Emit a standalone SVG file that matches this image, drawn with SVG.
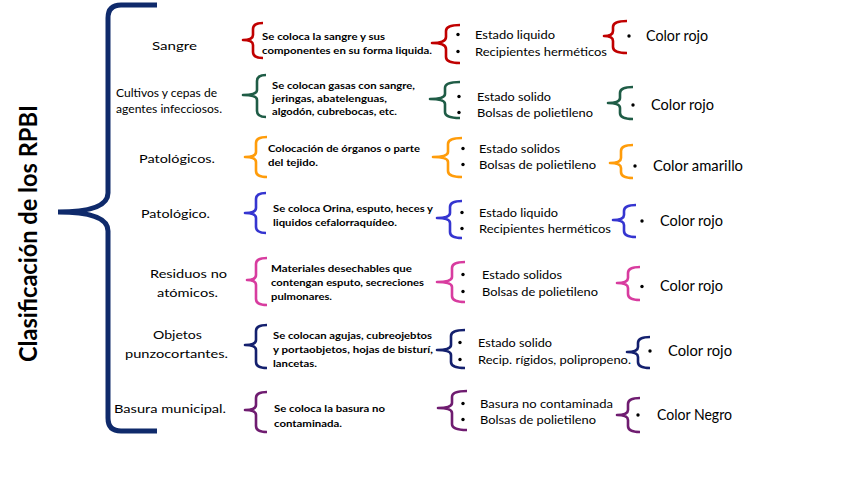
<svg xmlns="http://www.w3.org/2000/svg" width="848" height="477" viewBox="0 0 848 477">
<style>
text{font-family:Lato,"Liberation Sans",sans-serif;fill:#000}
.t{font-size:24px;font-weight:bold}
.lb{font-size:12px}
.ds{font-size:10.3px;font-weight:bold}
.c2{font-size:11.8px}
.c3{font-size:15px}
.br{fill:none;stroke-width:2.6;stroke-linecap:butt;stroke-linejoin:round}
.big{fill:none;stroke:#0F2A6B;stroke-width:5}
.r{stroke:#C00000}.g{stroke:#1F5C46}.o{stroke:#FF9C0A}.b{stroke:#3535D0}.m{stroke:#D83C9F}.n{stroke:#14206E}.p{stroke:#6F1C70}
circle{fill:#000}
</style>
<rect width="848" height="477" fill="#fff"/>
<g id="title"><text class="t" transform="translate(37,362) rotate(-90)" textLength="257" lengthAdjust="spacingAndGlyphs">Clasificación de los RPBI</text></g>
<g id="connectors">
<path class="big" d="M157,5 L121,5 Q108,5 108,18 L108,193 Q108,212 58,212 Q108,212 108,231 L108,418 Q108,431 121,431 L157,431"/>
<path class="br r" d="M263,23 Q253,23 253,29 L253,35 Q253,40 243,40 Q253,40 253,45 L253,52 Q253,58 263,58"/>
<path class="br r" d="M460,25 Q446,25 446,31 L446,37 Q446,43 432,43 Q446,43 446,49 L446,57 Q446,63 460,63"/>
<path class="br r" d="M627,21 Q613,21 613,27 L613,31 Q613,36 604,36 Q613,36 613,41 L613,47 Q613,53 627,53"/>
<path class="br g" d="M266,75 Q257,75 257,81 L257,90 Q257,95 243,95 Q257,95 257,100 L257,111 Q257,117 266,117"/>
<path class="br g" d="M460,82 Q445,82 445,88 L445,94 Q445,99 430,99 Q445,99 445,104 L445,112 Q445,118 460,118"/>
<path class="br g" d="M633,87 Q620,87 620,93 L620,98 Q620,103 608,103 Q620,103 620,108 L620,113 Q620,119 633,119"/>
<path class="br o" d="M267,137 Q256,137 256,143 L256,152 Q256,157 245,157 Q256,157 256,162 L256,171 Q256,177 267,177"/>
<path class="br o" d="M462,138 Q448,138 448,144 L448,152 Q448,157 433,157 Q448,157 448,162 L448,171 Q448,177 462,177"/>
<path class="br o" d="M633,145 Q621,145 621,151 L621,158 Q621,163 610,163 Q621,163 621,168 L621,172 Q621,178 633,178"/>
<path class="br b" d="M266,193 Q256,193 256,199 L256,208 Q256,213 245,213 Q256,213 256,218 L256,227 Q256,233 266,233"/>
<path class="br b" d="M462,201 Q450,201 450,207 L450,213 Q450,218 437,218 Q450,218 450,223 L450,232 Q450,238 462,238"/>
<path class="br b" d="M636,205 Q624,205 624,211 L624,215 Q624,220 613,220 Q624,220 624,225 L624,231 Q624,237 636,237"/>
<path class="br m" d="M267,258 Q256,258 256,264 L256,275 Q256,280 247,280 Q256,280 256,285 L256,299 Q256,305 267,305"/>
<path class="br m" d="M465,262 Q452,262 452,268 L452,277 Q452,282 437,282 Q452,282 452,287 L452,296 Q452,302 465,302"/>
<path class="br m" d="M640,267 Q628,267 628,273 L628,278 Q628,283 617,283 Q628,283 628,288 L628,294 Q628,300 640,300"/>
<path class="br n" d="M267,325 Q256,325 256,331 L256,340 Q256,345 245,345 Q256,345 256,350 L256,362 Q256,368 267,368"/>
<path class="br n" d="M465,330 Q451,330 451,336 L451,345 Q451,350 437,350 Q451,350 451,355 L451,362 Q451,368 465,368"/>
<path class="br n" d="M650,337 Q638,337 638,343 L638,347 Q638,352 627,352 Q638,352 638,357 L638,362 Q638,368 650,368"/>
<path class="br p" d="M267,392 Q256,392 256,398 L256,405 Q256,410 245,410 Q256,410 256,415 L256,426 Q256,432 267,432"/>
<path class="br p" d="M467,391 Q452,391 452,397 L452,403 Q452,408 438,408 Q452,408 452,413 L452,424 Q452,430 467,430"/>
<path class="br p" d="M640,398 Q628,398 628,404 L628,410 Q628,415 617,415 Q628,415 628,420 L628,426 Q628,432 640,432"/>
</g>
<g id="row-sangre">
<text class="lb" x="152" y="50" textLength="45" lengthAdjust="spacingAndGlyphs">Sangre</text>
<text class="ds" x="262" y="40" textLength="123" lengthAdjust="spacingAndGlyphs">Se coloca la sangre y sus</text>
<text class="ds" x="262" y="54" textLength="170" lengthAdjust="spacingAndGlyphs">componentes en su forma liquida.</text>
<circle cx="458" cy="34.5" r="1.7"/><circle cx="458" cy="51.5" r="1.7"/>
<text class="c2" x="475" y="39" textLength="80" lengthAdjust="spacingAndGlyphs">Estado liquido</text>
<text class="c2" x="475" y="56" textLength="132" lengthAdjust="spacingAndGlyphs">Recipientes herméticos</text>
<circle cx="629" cy="36" r="1.7"/>
<text class="c3" x="646" y="41" textLength="62" lengthAdjust="spacingAndGlyphs">Color rojo</text>
</g>
<g id="row-cultivos">
<text class="lb" x="116" y="97" textLength="101" lengthAdjust="spacingAndGlyphs">Cultivos y cepas de</text>
<text class="lb" x="116" y="113" textLength="106" lengthAdjust="spacingAndGlyphs">agentes infecciosos.</text>
<text class="ds" x="272" y="89" textLength="143" lengthAdjust="spacingAndGlyphs">Se colocan gasas con sangre,</text>
<text class="ds" x="272" y="102" textLength="115" lengthAdjust="spacingAndGlyphs">jeringas, abatelenguas,</text>
<text class="ds" x="272" y="115" textLength="125" lengthAdjust="spacingAndGlyphs">algodón, cubrebocas, etc.</text>
<circle cx="459" cy="96.5" r="1.7"/><circle cx="459" cy="112.5" r="1.7"/>
<text class="c2" x="477" y="101" textLength="74" lengthAdjust="spacingAndGlyphs">Estado solido</text>
<text class="c2" x="477" y="117" textLength="116" lengthAdjust="spacingAndGlyphs">Bolsas de polietileno</text>
<circle cx="633" cy="105" r="1.7"/>
<text class="c3" x="651" y="110" textLength="63" lengthAdjust="spacingAndGlyphs">Color rojo</text>
</g>
<g id="row-patologicos">
<text class="lb" x="139" y="163" textLength="76" lengthAdjust="spacingAndGlyphs">Patológicos.</text>
<text class="ds" x="268" y="152" textLength="152" lengthAdjust="spacingAndGlyphs">Colocación de órganos o parte</text>
<text class="ds" x="268" y="166" textLength="50" lengthAdjust="spacingAndGlyphs">del tejido.</text>
<circle cx="463" cy="148.5" r="1.7"/><circle cx="463" cy="164.5" r="1.7"/>
<text class="c2" x="479" y="153" textLength="81" lengthAdjust="spacingAndGlyphs">Estado solidos</text>
<text class="c2" x="479" y="169" textLength="117" lengthAdjust="spacingAndGlyphs">Bolsas de polietileno</text>
<circle cx="635" cy="166" r="1.7"/>
<text class="c3" x="653" y="171" textLength="90" lengthAdjust="spacingAndGlyphs">Color amarillo</text>
</g>
<g id="row-patologico">
<text class="lb" x="141" y="218" textLength="69" lengthAdjust="spacingAndGlyphs">Patológico.</text>
<text class="ds" x="273" y="212" textLength="160" lengthAdjust="spacingAndGlyphs">Se coloca Orina, esputo, heces y</text>
<text class="ds" x="273" y="226" textLength="124" lengthAdjust="spacingAndGlyphs">liquidos cefalorraquídeo.</text>
<circle cx="462" cy="212.5" r="1.7"/><circle cx="462" cy="228.5" r="1.7"/>
<text class="c2" x="479" y="217" textLength="79" lengthAdjust="spacingAndGlyphs">Estado liquido</text>
<text class="c2" x="479" y="233" textLength="132" lengthAdjust="spacingAndGlyphs">Recipientes herméticos</text>
<circle cx="642" cy="221" r="1.7"/>
<text class="c3" x="660" y="226" textLength="63" lengthAdjust="spacingAndGlyphs">Color rojo</text>
</g>
<g id="row-residuos">
<text class="lb" x="150" y="278" textLength="77" lengthAdjust="spacingAndGlyphs">Residuos no</text>
<text class="lb" x="157" y="297" textLength="61" lengthAdjust="spacingAndGlyphs">atómicos.</text>
<text class="ds" x="271" y="272" textLength="141" lengthAdjust="spacingAndGlyphs">Materiales desechables que</text>
<text class="ds" x="271" y="286" textLength="153" lengthAdjust="spacingAndGlyphs">contengan esputo, secreciones</text>
<text class="ds" x="271" y="300" textLength="61" lengthAdjust="spacingAndGlyphs">pulmonares.</text>
<circle cx="463" cy="274.5" r="1.7"/><circle cx="463" cy="291.5" r="1.7"/>
<text class="c2" x="482" y="279" textLength="80" lengthAdjust="spacingAndGlyphs">Estado solidos</text>
<text class="c2" x="482" y="296" textLength="116" lengthAdjust="spacingAndGlyphs">Bolsas de polietileno</text>
<circle cx="642" cy="286.5" r="1.7"/>
<text class="c3" x="660" y="291" textLength="63" lengthAdjust="spacingAndGlyphs">Color rojo</text>
</g>
<g id="row-objetos">
<text class="lb" x="153" y="339" textLength="49" lengthAdjust="spacingAndGlyphs">Objetos</text>
<text class="lb" x="125" y="358" textLength="103" lengthAdjust="spacingAndGlyphs">punzocortantes.</text>
<text class="ds" x="273" y="339" textLength="159" lengthAdjust="spacingAndGlyphs">Se colocan agujas, cubreojebtos</text>
<text class="ds" x="273" y="353" textLength="160" lengthAdjust="spacingAndGlyphs">y portaobjetos, hojas de bisturí,</text>
<text class="ds" x="273" y="367" textLength="44" lengthAdjust="spacingAndGlyphs">lancetas.</text>
<circle cx="460" cy="342.5" r="1.7"/><circle cx="460" cy="359.5" r="1.7"/>
<text class="c2" x="478" y="347" textLength="74" lengthAdjust="spacingAndGlyphs">Estado solido</text>
<text class="c2" x="478" y="364" textLength="153" lengthAdjust="spacingAndGlyphs">Recip. rígidos, polipropeno.</text>
<circle cx="650" cy="351" r="1.7"/>
<text class="c3" x="668" y="356" textLength="64" lengthAdjust="spacingAndGlyphs">Color rojo</text>
</g>
<g id="row-basura">
<text class="lb" x="114" y="413" textLength="112" lengthAdjust="spacingAndGlyphs">Basura municipal.</text>
<text class="ds" x="274" y="412" textLength="111" lengthAdjust="spacingAndGlyphs">Se coloca la basura no</text>
<text class="ds" x="274" y="427" textLength="68" lengthAdjust="spacingAndGlyphs">contaminada.</text>
<circle cx="463" cy="403.5" r="1.7"/><circle cx="463" cy="419.5" r="1.7"/>
<text class="c2" x="480" y="408" textLength="133" lengthAdjust="spacingAndGlyphs">Basura no contaminada</text>
<text class="c2" x="480" y="424" textLength="116" lengthAdjust="spacingAndGlyphs">Bolsas de polietileno</text>
<circle cx="638" cy="415" r="1.7"/>
<text class="c3" x="657" y="420" textLength="75" lengthAdjust="spacingAndGlyphs">Color Negro</text>
</g>
</svg>
